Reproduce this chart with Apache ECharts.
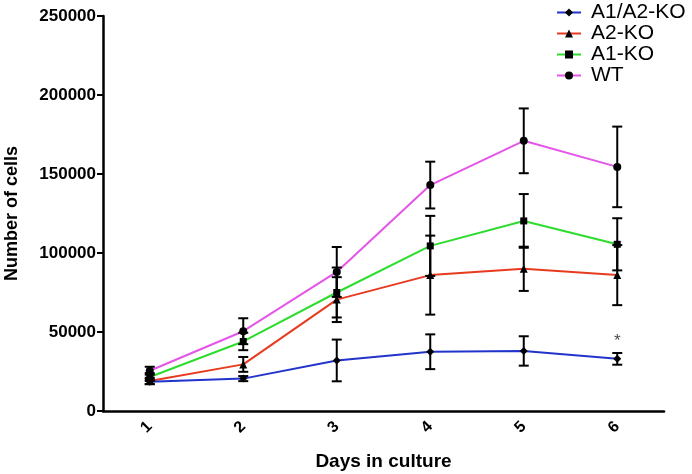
<!DOCTYPE html>
<html>
<head>
<meta charset="utf-8">
<script src="https://cdn.jsdelivr.net/npm/echarts@6/dist/echarts.min.js"></script>
<style>
  html, body { margin: 0; padding: 0; background: #fff; }
  #chart { width: 692px; height: 474px; }
</style>
</head>
<body>
<div id="chart"></div>
<script>
// days in culture
const days = ['1', '2', '3', '4', '5', '6']

// mean cell counts and error (+/-) per group
const a1a2ko = [18500, 20500, 32000, 37500, 38000, 33000]
const a1a2koErr = [1500, 1600, 13200, 11000, 9300, 3700]
const a2ko = [19000, 29500, 70500, 86000, 90000, 86000]
const a2koErr = [2000, 4700, 14200, 25000, 14000, 19000]
const a1ko = [21500, 44000, 75000, 104500, 120300, 105500]
const a1koErr = [2500, 5500, 15800, 19000, 17000, 16500]
const wt = [25500, 50500, 88000, 143000, 171000, 154500]
const wtErr = [2500, 8200, 15800, 14800, 20500, 25500]

// significance star over day 6 of A1/A2-KO
const starPoint = [[5, 44000]]

const font = 'Liberation Sans, Arial, sans-serif'

function errData(vals, errs) {
  return vals.map((v, i) => [i, v - errs[i], v + errs[i]])
}

function errorBar(params, api) {
  const idx = api.value(0)
  const top = api.coord([idx, api.value(2)])
  const bot = api.coord([idx, api.value(1)])
  const w = 5
  const style = { stroke: '#000', lineWidth: 2 }
  return {
    type: 'group',
    children: [
      { type: 'line', shape: { x1: top[0], y1: top[1], x2: bot[0], y2: bot[1] }, style: style },
      { type: 'line', shape: { x1: top[0] - w, y1: top[1], x2: top[0] + w, y2: top[1] }, style: style },
      { type: 'line', shape: { x1: bot[0] - w, y1: bot[1], x2: bot[0] + w, y2: bot[1] }, style: style }
    ]
  }
}

function lineSeries(name, data, color, symbol, size) {
  return {
    name: name,
    type: 'line',
    data: data,
    symbol: symbol,
    symbolSize: size,
    lineStyle: { color: color, width: 2 },
    itemStyle: { color: '#000' },
    z: 3,
    animation: false
  }
}

function errSeries(vals, errs) {
  return {
    type: 'custom',
    renderItem: errorBar,
    data: errData(vals, errs),
    z: 4,
    silent: true,
    animation: false
  }
}

const chart = echarts.init(document.getElementById('chart'))

const option = {
  backgroundColor: '#fff',
  animation: false,
  grid: { left: 103, right: 28, top: 16, bottom: 63, outerBoundsMode: 'none' },
  legend: {
    orient: 'vertical',
    left: 551,
    top: -3,
    itemWidth: 24,
    itemHeight: 10,
    itemGap: 0,
    data: ['A1/A2-KO', 'A2-KO', 'A1-KO', 'WT'],
    textStyle: { fontSize: 21, fontFamily: font, color: '#000', lineHeight: 21, padding: [0, 0, 0, 5] }
  },
  xAxis: {
    type: 'category',
    data: days,
    boundaryGap: true,
    name: 'Days in culture',
    nameLocation: 'middle',
    nameGap: 41,
    nameTextStyle: { fontSize: 19, fontWeight: 'bold', fontFamily: font, color: '#000' },
    axisLine: { lineStyle: { color: '#000', width: 2.5 } },
    axisTick: { alignWithLabel: true, length: 6, lineStyle: { color: '#000', width: 2 } },
    axisLabel: { rotate: 45, fontSize: 16, fontWeight: 'bold', fontFamily: font, color: '#000', margin: 13 },
    splitLine: { show: false }
  },
  yAxis: {
    type: 'value',
    min: 0,
    max: 250000,
    interval: 50000,
    name: 'Number of cells',
    nameLocation: 'middle',
    nameRotate: 90,
    nameGap: 82,
    nameTextStyle: { fontSize: 18, fontWeight: 'bold', fontFamily: font, color: '#000' },
    axisLine: { show: true, lineStyle: { color: '#000', width: 2.5 } },
    axisTick: { show: true, length: 6, lineStyle: { color: '#000', width: 2 } },
    axisLabel: {
      fontSize: 17, fontWeight: 'bold', fontFamily: font, color: '#000', margin: 7,
      formatter: v => String(v)
    },
    splitLine: { show: false }
  },
  series: [
    lineSeries('WT', wt, '#e455e8', 'circle', 8),
    lineSeries('A1-KO', a1ko, '#2ddc2d', 'rect', 7),
    lineSeries('A2-KO', a2ko, '#e83a1e', 'triangle', 8),
    lineSeries('A1/A2-KO', a1a2ko, '#2233cc', 'diamond', 8),
    errSeries(wt, wtErr),
    errSeries(a1ko, a1koErr),
    errSeries(a2ko, a2koErr),
    errSeries(a1a2ko, a1a2koErr),
    {
      type: 'scatter',
      data: starPoint,
      symbol: 'circle',
      symbolSize: 2,
      itemStyle: { color: 'rgba(0,0,0,0)' },
      silent: true,
      label: {
        show: true,
        position: 'inside',
        formatter: '*',
        fontSize: 17,
        fontFamily: font,
        color: '#222'
      },
      z: 5
    }
  ]
}

chart.setOption(option)
</script>
</body>
</html>
